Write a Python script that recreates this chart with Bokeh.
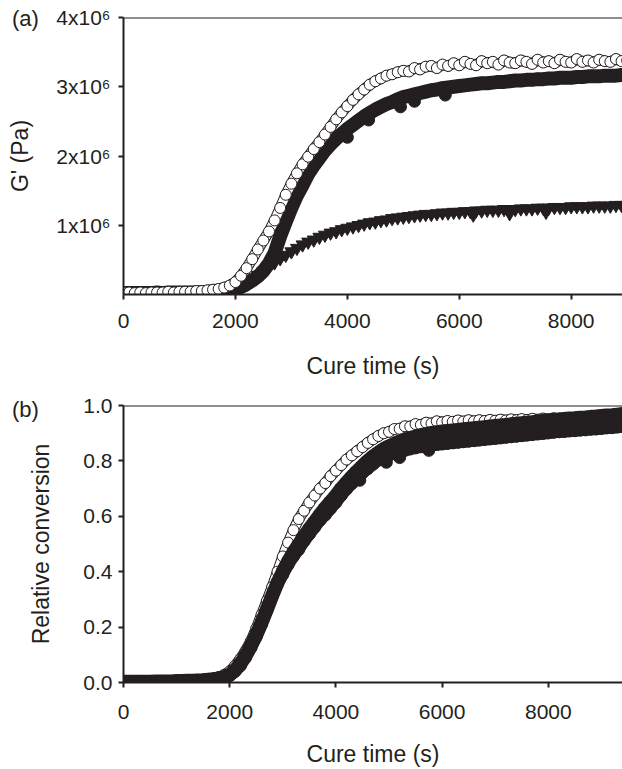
from bokeh.plotting import figure
from bokeh.layouts import column
from bokeh.models import Span, FixedTicker, Range1d, ColumnDataSource, Div
from bokeh.embed import file_html
from bokeh.resources import INLINE

# ---------------- data ----------------
cure_time_s = list(range(0, 9500, 100))   # sampling every 100 s

# (a) storage modulus G' in units of 10^6 Pa
gprime_open = [
    0.03, 0.03, 0.02, 0.03, 0.02, 0.03, 0.03, 0.03, 0.04, 0.03,
    0.04, 0.04, 0.04, 0.05, 0.05, 0.06, 0.07, 0.08, 0.10, 0.13,
    0.18, 0.27, 0.38, 0.51, 0.65, 0.78, 0.91, 1.07, 1.25, 1.44,
    1.60, 1.75, 1.88, 1.99, 2.10, 2.20, 2.31, 2.42, 2.53, 2.63,
    2.72, 2.81, 2.89, 2.96, 3.03, 3.08, 3.12, 3.16, 3.18, 3.21,
    3.23, 3.22, 3.27, 3.25, 3.29, 3.30, 3.27, 3.32, 3.30, 3.34,
    3.31, 3.36, 3.33, 3.31, 3.37, 3.34, 3.36, 3.32, 3.38, 3.35,
    3.34, 3.38, 3.36, 3.33, 3.39, 3.35, 3.37, 3.34, 3.39, 3.36,
    3.35, 3.40, 3.36, 3.38, 3.35, 3.39, 3.37, 3.36, 3.40, 3.37,
    3.38, 3.36, 3.39, 3.37, 3.38,
]
gprime_filled = [
    0.02, 0.02, 0.02, 0.02, 0.02, 0.02, 0.03, 0.02, 0.03, 0.03,
    0.03, 0.03, 0.03, 0.03, 0.03, 0.04, 0.04, 0.05, 0.06, 0.07,
    0.08, 0.11, 0.15, 0.20, 0.26, 0.34, 0.45, 0.60, 0.84, 1.05,
    1.25, 1.43, 1.58, 1.74, 1.86, 1.97, 2.08, 2.17, 2.25, 2.32,
    2.39, 2.45, 2.51, 2.57, 2.62, 2.67, 2.71, 2.75, 2.78, 2.82,
    2.85, 2.87, 2.89, 2.91, 2.93, 2.95, 2.96, 2.98, 2.99, 3.00,
    3.01, 3.02, 3.03, 3.04, 3.05, 3.05, 3.06, 3.07, 3.07, 3.08,
    3.09, 3.09, 3.10, 3.10, 3.11, 3.11, 3.12, 3.12, 3.13, 3.13,
    3.13, 3.14, 3.14, 3.15, 3.15, 3.15, 3.16, 3.16, 3.16, 3.17,
    3.17, 3.17, 3.18, 3.18, 3.18,
]
gprime_filled_dip_t = [4000, 4380, 4950, 5200, 5750]
gprime_filled_dip_v = [2.27, 2.52, 2.71, 2.79, 2.88]
gprime_tri = [
    0.02, 0.02, 0.02, 0.02, 0.02, 0.02, 0.02, 0.02, 0.02, 0.02,
    0.02, 0.02, 0.02, 0.03, 0.03, 0.03, 0.03, 0.04, 0.04, 0.05,
    0.05, 0.10, 0.15, 0.21, 0.28, 0.34, 0.40, 0.46, 0.52, 0.57,
    0.62, 0.67, 0.72, 0.76, 0.79, 0.83, 0.86, 0.89, 0.91, 0.94,
    0.96, 0.98, 1.00, 1.02, 1.04, 1.05, 1.07, 1.08, 1.10, 1.11,
    1.12, 1.13, 1.14, 1.15, 1.16, 1.16, 1.17, 1.18, 1.18, 1.19,
    1.19, 1.20, 1.20, 1.21, 1.21, 1.22, 1.22, 1.22, 1.23, 1.23,
    1.23, 1.24, 1.24, 1.24, 1.25, 1.25, 1.25, 1.26, 1.26, 1.26,
    1.27, 1.27, 1.27, 1.27, 1.28, 1.28, 1.28, 1.28, 1.29, 1.29,
    1.29, 1.29, 1.30, 1.30, 1.30,
]
gprime_tri_dip_t = [6250, 6900, 7550]
gprime_tri_dip_v = [1.15, 1.17, 1.19]

# (b) relative conversion
conv_open = [
    0.005, 0.005, 0.004, 0.005, 0.004, 0.005, 0.005, 0.006, 0.006, 0.006,
    0.007, 0.007, 0.008, 0.009, 0.010, 0.011, 0.013, 0.016, 0.020, 0.028,
    0.040, 0.060, 0.085, 0.115, 0.150, 0.195, 0.245, 0.295, 0.345, 0.400,
    0.455, 0.505, 0.550, 0.590, 0.620, 0.650, 0.675, 0.700, 0.720, 0.745,
    0.765, 0.785, 0.805, 0.820, 0.835, 0.850, 0.865, 0.878, 0.890, 0.900,
    0.905, 0.915, 0.916, 0.925, 0.924, 0.933, 0.930, 0.938, 0.935, 0.943,
    0.939, 0.944, 0.941, 0.946, 0.942, 0.947, 0.943, 0.947, 0.944, 0.948,
    0.945, 0.949, 0.946, 0.950, 0.947, 0.951, 0.948, 0.952, 0.949, 0.953,
    0.950, 0.954, 0.951, 0.955, 0.952, 0.956, 0.953, 0.957, 0.954, 0.958,
    0.955, 0.959, 0.956, 0.960, 0.957,
]
conv_filled = [
    0.002, 0.002, 0.002, 0.002, 0.002, 0.003, 0.003, 0.003, 0.003, 0.003,
    0.004, 0.004, 0.005, 0.005, 0.006, 0.007, 0.008, 0.010, 0.012, 0.016,
    0.025, 0.040, 0.060, 0.090, 0.125, 0.165, 0.210, 0.260, 0.310, 0.355,
    0.390, 0.425, 0.455, 0.480, 0.510, 0.535, 0.560, 0.585, 0.605, 0.628,
    0.650, 0.675, 0.698, 0.718, 0.738, 0.756, 0.772, 0.788, 0.803, 0.812,
    0.820, 0.827, 0.833, 0.838, 0.843, 0.847, 0.851, 0.854, 0.857, 0.859,
    0.861, 0.863, 0.865, 0.867, 0.869, 0.871, 0.873, 0.875, 0.877, 0.879,
    0.881, 0.883, 0.885, 0.887, 0.889, 0.891, 0.893, 0.895, 0.897, 0.899,
    0.901, 0.903, 0.905, 0.906, 0.908, 0.909, 0.911, 0.912, 0.914, 0.915,
    0.917, 0.919, 0.920, 0.922, 0.924,
]
conv_filled_dip_t = [4450, 4950, 5200, 5750]
conv_filled_dip_v = [0.730, 0.795, 0.812, 0.838]
conv_tri = [
    0.003, 0.003, 0.003, 0.003, 0.003, 0.003, 0.004, 0.004, 0.004, 0.004,
    0.005, 0.005, 0.006, 0.006, 0.007, 0.008, 0.010, 0.012, 0.015, 0.020,
    0.028, 0.045, 0.068, 0.098, 0.133, 0.172, 0.216, 0.264, 0.313, 0.360,
    0.400, 0.437, 0.470, 0.498, 0.528, 0.555, 0.580, 0.606, 0.630, 0.653,
    0.675, 0.700, 0.722, 0.743, 0.763, 0.782, 0.800, 0.816, 0.830, 0.843,
    0.853, 0.862, 0.870, 0.877, 0.883, 0.888, 0.893, 0.897, 0.901, 0.904,
    0.906, 0.908, 0.910, 0.912, 0.914, 0.916, 0.918, 0.920, 0.922, 0.924,
    0.926, 0.928, 0.930, 0.932, 0.934, 0.936, 0.938, 0.940, 0.942, 0.944,
    0.946, 0.948, 0.950, 0.951, 0.953, 0.954, 0.956, 0.957, 0.959, 0.960,
    0.962, 0.964, 0.965, 0.967, 0.969,
]

x_ticks = [0, 2000, 4000, 6000, 8000]
gp_ticks = [1000000, 2000000, 3000000, 4000000]
gp_tick_labels = ["1x10\u2076", "2x10\u2076", "3x10\u2076", "4x10\u2076"]
conv_ticks = [0.0, 0.2, 0.4, 0.6, 0.8, 1.0]
conv_tick_labels = ["0.0", "0.2", "0.4", "0.6", "0.8", "1.0"]
panel_tags = ["(a)", "(b)"]

# ---------------- style ----------------
FONT = "Liberation Sans"
INK = "#231f20"
SCALE = 1e6


def style_axes(p, y_label, xl_std, xt_std, yl_std, yt_std):
    p.xgrid.visible = False
    p.ygrid.visible = False
    p.outline_line_color = None
    p.background_fill_color = "white"
    p.border_fill_color = "white"
    for ax in (p.xaxis[0], p.yaxis[0]):
        ax.axis_line_color = INK
        ax.axis_line_width = 2
        ax.major_tick_line_color = INK
        ax.major_tick_line_width = 2
        ax.major_tick_out = 5
        ax.major_tick_in = 0
        ax.minor_tick_line_color = None
        ax.major_label_text_font = FONT
        ax.major_label_text_font_size = "21px"
        ax.major_label_text_color = INK
        ax.major_label_text_line_height = 1.0
        ax.axis_label_text_font = FONT
        ax.axis_label_text_font_size = "23px"
        ax.axis_label_text_font_style = "normal"
        ax.axis_label_text_color = INK
        ax.axis_label_text_line_height = 1.0
    p.xaxis[0].ticker = FixedTicker(ticks=x_ticks)
    p.xaxis[0].axis_label = "Cure time (s)"
    p.xaxis[0].major_label_standoff = xl_std
    p.xaxis[0].axis_label_standoff = xt_std
    p.yaxis[0].axis_label = y_label
    p.yaxis[0].major_label_standoff = yl_std
    p.yaxis[0].axis_label_standoff = yt_std


def open_series(p, src, y):
    # dense chain of white-filled circles: tube under the markers
    p.line("t", y, source=src, line_color=INK, line_width=11, line_join="round", line_cap="round")
    p.line("t", y, source=src, line_color="white", line_width=9, line_join="round", line_cap="round")
    p.scatter("t", y, source=src, marker="circle", size=11,
              fill_color="white", line_color=INK, line_width=1)


def filled_series(p, src, y, marker, size, band):
    p.line("t", y, source=src, line_color=INK, line_width=band, line_join="round", line_cap="round")
    p.scatter("t", y, source=src, marker=marker, size=size, fill_color=INK, line_color=INK)


def tag(text, left, top):
    html = ('<span style="font-family: \'%s\'; font-size: 22px; color: %s; '
            'line-height: 1.15; white-space: nowrap;">%s</span>' % (FONT, INK, text))
    return Div(text=html, styles={"position": "absolute", "left": "%dpx" % left,
                                  "top": "%dpx" % top, "margin": "0", "padding": "0"})


# ---------------- panel (a) ----------------
src_a = ColumnDataSource(dict(
    t=cure_time_s,
    open=[v * SCALE for v in gprime_open],
    filled=[v * SCALE for v in gprime_filled],
    tri=[v * SCALE for v in gprime_tri],
))
src_a_fdip = ColumnDataSource(dict(t=gprime_filled_dip_t, v=[v * SCALE for v in gprime_filled_dip_v]))
src_a_tdip = ColumnDataSource(dict(t=gprime_tri_dip_t, v=[v * SCALE for v in gprime_tri_dip_v]))

p1 = figure(frame_width=499, frame_height=277,
            x_range=Range1d(0, 8917), y_range=Range1d(0, 4 * SCALE),
            output_backend="svg", toolbar_location=None,
            min_border_left=123, min_border_right=0, min_border_top=17, min_border_bottom=96)
style_axes(p1, "G' (Pa)", 14, 22, 8, 20)
p1.yaxis[0].ticker = FixedTicker(ticks=gp_ticks)
p1.yaxis[0].major_label_overrides = dict(zip(gp_ticks, gp_tick_labels))

filled_series(p1, src_a, "filled", "circle", 12, 14)
p1.scatter("t", "v", source=src_a_fdip, marker="circle", size=12, fill_color=INK, line_color=INK)
filled_series(p1, src_a, "tri", "inverted_triangle", 13, 7)
p1.scatter("t", "v", source=src_a_tdip, marker="inverted_triangle", size=13, fill_color=INK, line_color=INK)
open_series(p1, src_a, "open")
p1.add_layout(Span(location=4 * SCALE, dimension="width", line_color=INK, line_width=2))

# ---------------- panel (b) ----------------
src_b = ColumnDataSource(dict(t=cure_time_s, open=conv_open, filled=conv_filled, tri=conv_tri))
src_b_fdip = ColumnDataSource(dict(t=conv_filled_dip_t, v=conv_filled_dip_v))

p2 = figure(frame_width=499, frame_height=277,
            x_range=Range1d(0, 9397), y_range=Range1d(0, 1.0),
            output_backend="svg", toolbar_location=None,
            min_border_left=123, min_border_right=0, min_border_top=15, min_border_bottom=86)
style_axes(p2, "Relative conversion", 17, 19, 6, 26)
p2.yaxis[0].ticker = FixedTicker(ticks=conv_ticks)
p2.yaxis[0].major_label_overrides = dict(zip(conv_ticks, conv_tick_labels))

open_series(p2, src_b, "open")
filled_series(p2, src_b, "tri", "inverted_triangle", 12, 14)
filled_series(p2, src_b, "filled", "circle", 12, 12)
p2.scatter("t", "v", source=src_b_fdip, marker="circle", size=12, fill_color=INK, line_color=INK)
p2.add_layout(Span(location=1.0, dimension="width", line_color=INK, line_width=2))

layout = column(p1, p2, tag(panel_tags[0], 12, 6), tag(panel_tags[1], 12, 397))
open("out.html", "w").write(file_html(layout, INLINE))
